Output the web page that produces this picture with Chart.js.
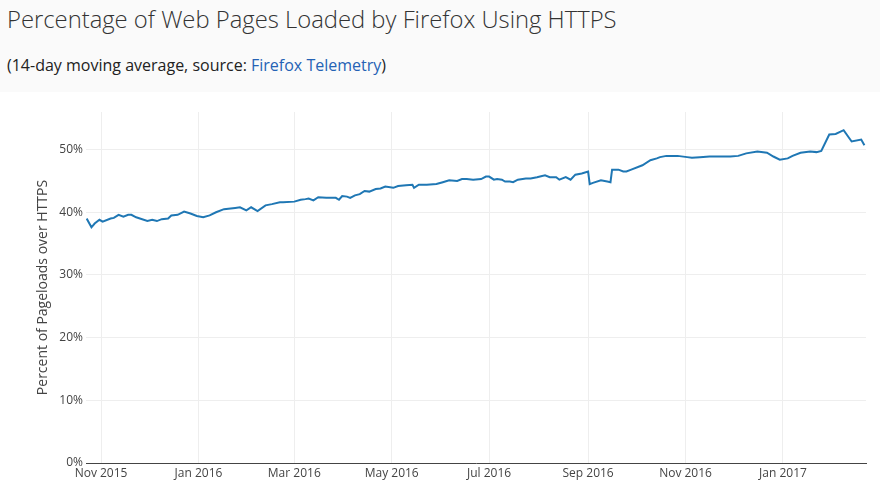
<!DOCTYPE html>
<html>
<head>
<meta charset="utf-8">
<script src="https://cdn.jsdelivr.net/npm/chart.js@4.4.1/dist/chart.umd.min.js"></script>
<style>
  html, body { margin: 0; padding: 0; background: #ffffff; width: 880px; height: 487px; overflow: hidden; }
  #head { position: absolute; left: 0; top: 0; width: 880px; height: 92px; background: #fafafa; font-family: "Open Sans", sans-serif; color: #333; }
  #title { position: absolute; left: 7px; top: 3px; font-size: 23.8px; font-weight: 300; white-space: nowrap; }
  #sub { position: absolute; left: 7px; top: 54px; font-size: 16px; color: #222; white-space: nowrap; }
  #sub a { color: #2562b5; text-decoration: none; }
  #wrap { position: absolute; left: 0; top: 92px; width: 880px; height: 395px; }
</style>
</head>
<body>
<div id="head">
  <div id="title">Percentage of Web Pages Loaded by Firefox Using HTTPS</div>
  <div id="sub">(14-day moving average, source: <a href="#">Firefox Telemetry</a>)</div>
</div>
<div id="wrap"><canvas id="c" width="880" height="395"></canvas></div>
<script>
// ---- data ----
const dates = [
  '2015-10-23','2015-10-26','2015-10-28','2015-10-31','2015-11-02','2015-11-07','2015-11-09','2015-11-12',
  '2015-11-15','2015-11-18','2015-11-20','2015-11-23','2015-11-30','2015-12-03','2015-12-06','2015-12-09',
  '2015-12-13','2015-12-15','2015-12-19','2015-12-23','2015-12-27','2015-12-31','2016-01-04','2016-01-08',
  '2016-01-12','2016-01-17','2016-01-24','2016-01-27','2016-01-31','2016-02-03','2016-02-07','2016-02-12',
  '2016-02-16','2016-02-21','2016-02-23','2016-03-01','2016-03-05','2016-03-08','2016-03-10','2016-03-13',
  '2016-03-16','2016-03-21','2016-03-27','2016-03-29','2016-03-31','2016-04-03','2016-04-05','2016-04-08',
  '2016-04-11','2016-04-14','2016-04-17','2016-04-21','2016-04-24','2016-04-27','2016-05-02','2016-05-05',
  '2016-05-10','2016-05-14','2016-05-15','2016-05-18','2016-05-23','2016-05-29','2016-06-02','2016-06-06',
  '2016-06-11','2016-06-14','2016-06-17','2016-06-21','2016-06-26','2016-06-29','2016-07-01','2016-07-04',
  '2016-07-06','2016-07-09','2016-07-11','2016-07-14','2016-07-16','2016-07-19','2016-07-24','2016-07-27',
  '2016-07-31','2016-08-05','2016-08-08','2016-08-12','2016-08-14','2016-08-18','2016-08-21','2016-08-24',
  '2016-08-28','2016-09-01','2016-09-02','2016-09-04','2016-09-09','2016-09-13','2016-09-15','2016-09-16',
  '2016-09-20','2016-09-23','2016-09-25','2016-09-28','2016-10-05','2016-10-10','2016-10-14','2016-10-16',
  '2016-10-20','2016-10-27','2016-11-02','2016-11-05','2016-11-10','2016-11-16','2016-11-23','2016-11-29',
  '2016-12-04','2016-12-09','2016-12-16','2016-12-22','2016-12-26','2016-12-30','2017-01-04','2017-01-07',
  '2017-01-12','2017-01-18','2017-01-22','2017-01-25','2017-01-30','2017-02-03','2017-02-08','2017-02-13',
  '2017-02-19','2017-02-21'
];
const httpsPct = [
  39.0,37.6,38.2,38.8,38.5,39.0,39.1,39.6,
  39.3,39.6,39.6,39.2,38.6,38.8,38.6,38.9,
  39.0,39.5,39.6,40.1,39.8,39.4,39.2,39.5,
  40.0,40.5,40.7,40.8,40.3,40.8,40.2,41.1,
  41.3,41.6,41.6,41.7,42.0,42.1,42.2,41.9,
  42.4,42.3,42.3,42.0,42.6,42.5,42.3,42.7,
  42.9,43.4,43.3,43.7,43.8,44.1,43.9,44.2,
  44.3,44.4,43.9,44.4,44.4,44.5,44.8,45.1,
  45.0,45.3,45.3,45.2,45.3,45.7,45.7,45.2,
  45.3,45.2,44.9,44.9,44.8,45.2,45.4,45.4,
  45.6,45.9,45.6,45.6,45.2,45.6,45.2,46.0,
  46.2,46.5,44.5,44.7,45.1,44.9,44.8,46.8,
  46.8,46.5,46.5,46.8,47.5,48.3,48.6,48.8,
  49.0,49.0,48.8,48.7,48.8,48.9,48.9,48.9,
  49.0,49.4,49.7,49.5,48.9,48.4,48.6,49.0,
  49.5,49.7,49.6,49.8,52.4,52.5,53.1,51.3,
  51.6,50.7
];
const tickDates = ['2015-11-01','2016-01-01','2016-03-01','2016-05-01','2016-07-01','2016-09-01','2016-11-01','2017-01-01'];
const tickLabels = ['Nov 2015','Jan 2016','Mar 2016','May 2016','Jul 2016','Sep 2016','Nov 2016','Jan 2017'];
const yTicks = [0, 10, 20, 30, 40, 50];
const xRange = ['2015-10-22T14:00', '2017-02-22'];

// ---- helpers ----
const EPOCH = Date.UTC(2015, 10, 1);
function dayOf(s) {
  const [d, t] = s.split('T');
  const [y, m, dd] = d.split('-').map(Number);
  let hours = 0;
  if (t) hours = Number(t.split(':')[0]);
  return (Date.UTC(y, m - 1, dd, hours) - EPOCH) / 864e5;
}
const points = dates.map((d, i) => ({ x: dayOf(d), y: httpsPct[i] }));
const tickVals = tickDates.map(dayOf);

const FONT = '"Open Sans", sans-serif';
new Chart(document.getElementById('c'), {
  type: 'line',
  data: {
    datasets: [{
      data: points,
      borderColor: '#1f77b4',
      borderWidth: 2,
      pointRadius: 0,
      tension: 0,
      fill: false
    }]
  },
  options: {
    responsive: false,
    animation: false,
    layout: { padding: { top: 20, right: 14, left: 0, bottom: 0 } },
    plugins: { legend: { display: false }, tooltip: { enabled: false } },
    scales: {
      x: {
        type: 'linear',
        min: dayOf(xRange[0]),
        max: 479,
        afterBuildTicks: (s) => { s.ticks = tickVals.map(v => ({ value: v })); },
        afterFit: (s) => { s.height = 24; },
        ticks: {
          autoSkip: false,
          maxRotation: 0,
          padding: 3,
          color: '#444',
          font: { family: FONT, size: 12 },
          callback: (v) => { const i = tickVals.indexOf(v); return i >= 0 ? tickLabels[i] : ''; }
        },
        grid: { color: '#eeeeee', lineWidth: 1, drawTicks: false },
        border: { display: true, color: '#444444', width: 1 }
      },
      y: {
        min: 0,
        max: 56,
        afterBuildTicks: (s) => { s.ticks = yTicks.map(v => ({ value: v })); },
        afterFit: (s) => { s.width = 86; },
        ticks: {
          padding: 3,
          color: '#444',
          font: { family: FONT, size: 12 },
          callback: (v) => v + '%'
        },
        grid: { color: '#eeeeee', lineWidth: 1, drawTicks: false },
        border: { display: false },
        title: {
          display: true,
          text: 'Percent of Pageloads over HTTPS',
          color: '#444',
          font: { family: FONT, size: 14 },
          padding: { top: 35, bottom: 0 }
        }
      }
    }
  }
});
</script>
</body>
</html>
